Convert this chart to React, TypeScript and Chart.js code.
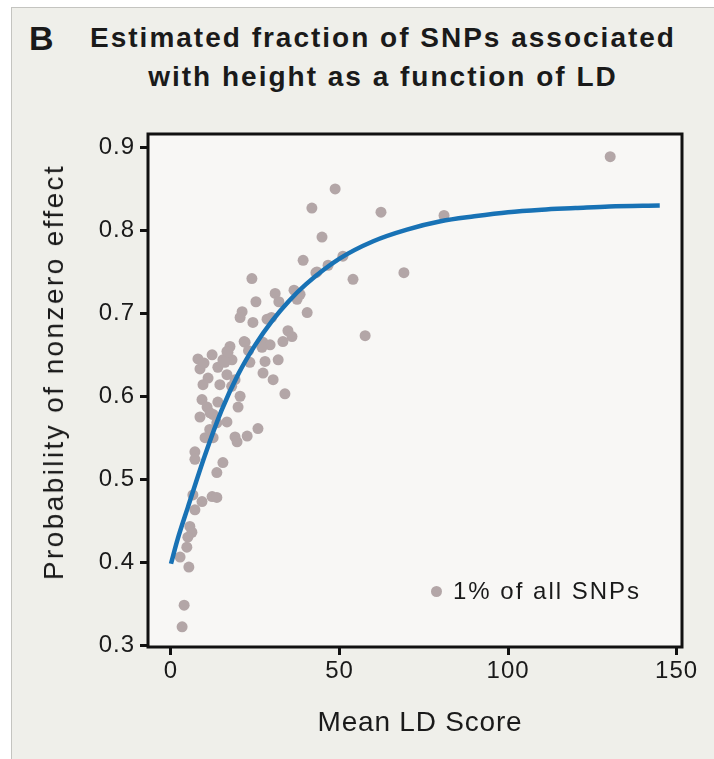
import React, { useEffect, useRef } from "react";
import { Chart, registerables } from "chart.js";

Chart.register(...registerables);

// ---- data ----
const snpLdScore = [
  130.3, 48.7, 41.8, 62.3, 81.0, 44.8, 39.2, 51.0, 46.6, 43.0,
  54.0, 69.1, 38.3, 40.4, 57.6, 24.0, 25.2, 30.9, 32.0, 37.4,
  21.1, 20.5, 24.3, 28.5, 34.7, 35.9, 33.2, 21.7, 27.3, 29.4,
  27.0, 17.5, 16.6, 12.2, 8.0, 18.1, 15.4, 23.4, 27.9, 31.8,
  8.6, 13.9, 16.6, 27.3, 30.3, 11.0, 9.5, 33.8, 9.2, 10.7,
  13.9, 20.5, 19.9, 8.6, 12.5, 16.6, 13.6, 25.8, 22.6, 19.0,
  19.6, 10.1, 12.5, 7.1, 15.4, 13.6, 6.5, 9.2, 12.2, 13.6,
  7.1, 5.6, 6.2, 5.0, 4.7, 2.7, 5.3, 3.9, 3.3, 16.9,
  16.0, 22.0, 43.3, 7.1, 11.6, 14.5, 19.0, 23.0, 9.8, 18.0,
  11.5, 29.8, 36.5,
];
const snpProbability = [
  0.889, 0.850, 0.827, 0.822, 0.818, 0.792, 0.764, 0.769, 0.758, 0.749,
  0.741, 0.749, 0.723, 0.701, 0.673, 0.742, 0.714, 0.724, 0.714, 0.717,
  0.702, 0.695, 0.689, 0.693, 0.679, 0.672, 0.666, 0.666, 0.665, 0.662,
  0.659, 0.660, 0.654, 0.650, 0.645, 0.644, 0.644, 0.641, 0.642, 0.644,
  0.633, 0.635, 0.626, 0.628, 0.620, 0.622, 0.614, 0.603, 0.596, 0.587,
  0.593, 0.600, 0.587, 0.575, 0.578, 0.569, 0.568, 0.561, 0.552, 0.551,
  0.545, 0.550, 0.550, 0.533, 0.520, 0.508, 0.481, 0.473, 0.479, 0.478,
  0.463, 0.443, 0.436, 0.430, 0.418, 0.406, 0.394, 0.348, 0.322, 0.653,
  0.641, 0.665, 0.750, 0.524, 0.580, 0.614, 0.620, 0.655, 0.640, 0.612,
  0.560, 0.695, 0.728,
];
const curveLdScore = [0, 2, 5, 10, 15, 20, 25, 30, 35, 40, 50, 60, 70, 80, 90, 100, 110, 120, 130, 145];
const curveProbability = [
  0.398, 0.428, 0.466, 0.528, 0.583, 0.627, 0.662, 0.691, 0.715, 0.735,
  0.766, 0.787, 0.801, 0.811, 0.817, 0.822, 0.825, 0.827, 0.829, 0.830,
];
const xTickValues = [0, 50, 100, 150];
const yTickValues = [0.3, 0.4, 0.5, 0.6, 0.7, 0.8, 0.9];

const panelLetter = "B";
const titleLines = ["Estimated fraction of SNPs associated", "with height as a function of LD"];
const xAxisTitle = "Mean LD Score";
const yAxisTitle = "Probability of nonzero effect";
const legendLabel = "1% of all SNPs";

// ---- styles ----
const FONT = '"Liberation Sans", Arial, Helvetica, sans-serif';
const TEXT = "#1a1a1a";
const DOT = "#b3a6a7";
const BLUE = "#1872b5";
const PANEL_BG = "#efefea";
const PLOT_BG = "#f8f7f5";

const framePlugin = {
  id: "frame",
  beforeUpdate(chart: any) {
    chart.ctx.letterSpacing = "1px";
  },
  beforeDraw(chart: any) {
    const { ctx, chartArea: a } = chart;
    ctx.letterSpacing = "1px";
    ctx.save();
    ctx.fillStyle = PLOT_BG;
    ctx.fillRect(a.left, a.top, a.right - a.left, a.bottom - a.top);
    ctx.restore();
  },
  afterDatasetsDraw(chart: any) {
    const { ctx, chartArea: a } = chart;
    ctx.save();
    ctx.strokeStyle = "#111";
    ctx.lineWidth = 3;
    ctx.strokeRect(a.left, a.top, a.right - a.left, a.bottom - a.top);
    ctx.restore();
  },
};

export default function App() {
  const canvasRef = useRef<HTMLCanvasElement | null>(null);

  useEffect(() => {
    document.body.style.margin = "0";
    const canvas = canvasRef.current;
    if (!canvas) return;
    const points = snpLdScore.map((x, i) => ({ x, y: snpProbability[i] }));
    const curve = curveLdScore.map((x, i) => ({ x, y: curveProbability[i] }));
    const tickGrid = {
      display: true,
      drawOnChartArea: false,
      drawTicks: true,
      tickLength: 8,
      tickWidth: 3,
      tickColor: "#111",
    };
    const chart = new Chart(canvas, {
      type: "scatter",
      data: {
        datasets: [
          {
            type: "line",
            data: curve,
            borderColor: BLUE,
            borderWidth: 4.5,
            pointRadius: 0,
            cubicInterpolationMode: "monotone",
            fill: false,
            order: 0,
          } as any,
          {
            data: points,
            backgroundColor: DOT,
            borderWidth: 0,
            pointRadius: 5.5,
            pointHoverRadius: 5.5,
            order: 1,
          },
        ],
      },
      options: {
        responsive: false,
        animation: false,
        events: [],
        layout: { padding: { top: 134, right: 32, left: 0, bottom: 0 } },
        plugins: {
          legend: { display: false },
          tooltip: { enabled: false },
        },
        scales: {
          x: {
            type: "linear",
            min: -6.82,
            max: 151.6,
            afterBuildTicks: (s: any) => {
              s.ticks = xTickValues.map((v) => ({ value: v }));
            },
            afterFit: (s: any) => {
              s.height = 112;
            },
            grid: tickGrid as any,
            border: { display: false },
            ticks: {
              font: { family: FONT, size: 24 },
              color: TEXT,
              padding: 2,
              maxRotation: 0,
              callback: (v: any) => String(v),
            },
          },
          y: {
            type: "linear",
            min: 0.2976,
            max: 0.9163,
            afterBuildTicks: (s: any) => {
              s.ticks = yTickValues.map((v) => ({ value: v }));
            },
            afterFit: (s: any) => {
              s.width = 148;
            },
            grid: tickGrid as any,
            border: { display: false },
            ticks: {
              font: { family: FONT, size: 24 },
              color: TEXT,
              padding: 5,
              callback: (v: any) => Number(v).toFixed(1),
            },
          },
        },
      },
      plugins: [framePlugin],
    });
    return () => chart.destroy();
  }, []);

  return (
    <div style={{ position: "relative", width: 714, height: 759, background: "#fff", overflow: "hidden", fontFamily: FONT, color: TEXT }}>
      <div
        style={{
          position: "absolute",
          left: 11,
          top: 7,
          right: 0,
          bottom: 0,
          background: PANEL_BG,
          borderLeft: "1px solid #c4c4c0",
          borderTop: "1px solid #c4c4c0",
        }}
      />
      <div style={{ position: "absolute", left: 29, top: 18, fontWeight: 700, fontSize: 34, lineHeight: "40px" }}>
        {panelLetter}
      </div>
      <div
        style={{
          position: "absolute",
          left: 83,
          width: 600,
          top: 18,
          textAlign: "center",
          fontWeight: 700,
          fontSize: 28,
          lineHeight: "39px",
          letterSpacing: "2px",
          whiteSpace: "nowrap",
        }}
      >
        <div>{titleLines[0]}</div>
        <div>{titleLines[1]}</div>
      </div>
      <canvas ref={canvasRef} width={714} height={759} style={{ position: "absolute", left: 0, top: 0, width: 714, height: 759 }} />
      <div
        style={{
          position: "absolute",
          left: 54,
          top: 372,
          transform: "translate(-50%, -50%) rotate(-90deg)",
          fontSize: 28,
          lineHeight: "28px",
          letterSpacing: "2.4px",
          whiteSpace: "nowrap",
        }}
      >
        {yAxisTitle}
      </div>
      <div
        style={{
          position: "absolute",
          left: 420,
          top: 722,
          transform: "translate(-50%, -50%)",
          fontSize: 28,
          lineHeight: "28px",
          letterSpacing: "0.8px",
          whiteSpace: "nowrap",
        }}
      >
        {xAxisTitle}
      </div>
      <div style={{ position: "absolute", left: 430.5, top: 585.5, width: 11, height: 11, borderRadius: "50%", background: DOT }} />
      <div
        style={{
          position: "absolute",
          left: 453,
          top: 591,
          transform: "translateY(-50%)",
          fontSize: 24,
          lineHeight: "24px",
          letterSpacing: "2px",
          whiteSpace: "nowrap",
        }}
      >
        {legendLabel}
      </div>
    </div>
  );
}
